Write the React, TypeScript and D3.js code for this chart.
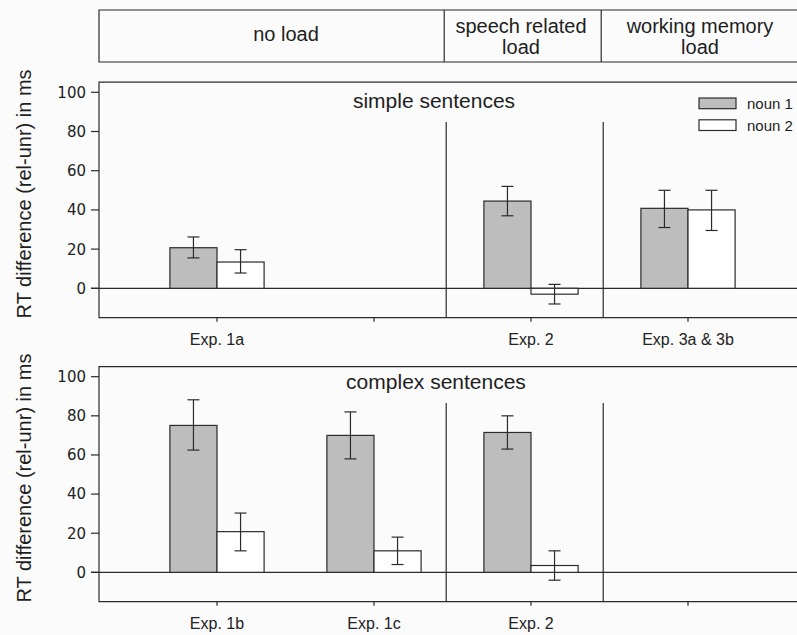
import React, { useEffect, useRef } from 'react';
import * as d3 from 'd3';

// category slots along the x axis (blank slot has a tick but no label)
const slots = ['s0', 's1', 's2', 's3'];
const simpleLabels = ['Exp. 1a', '', 'Exp. 2', 'Exp. 3a & 3b'];
const complexLabels = ['Exp. 1b', 'Exp. 1c', 'Exp. 2', ''];

// simple sentences: mean and CI per slot (null = no bar)
const simpleNoun1 = [20.7, null, 44.5, 40.8];
const simpleNoun1Lo = [15.5, null, 37, 31];
const simpleNoun1Hi = [26.2, null, 52, 50];
const simpleNoun2 = [13.4, null, -3, 40];
const simpleNoun2Lo = [7.8, null, -8, 29.5];
const simpleNoun2Hi = [19.7, null, 2, 50];

// complex sentences
const complexNoun1 = [75.1, 70, 71.5, null];
const complexNoun1Lo = [62.5, 58, 63, null];
const complexNoun1Hi = [88.2, 82, 80, null];
const complexNoun2 = [20.8, 11, 3.5, null];
const complexNoun2Lo = [11, 4, -4, null];
const complexNoun2Hi = [30.3, 18, 11, null];

const yTicks = [0, 20, 40, 60, 80, 100];
const headers = [['no load'], ['speech related', 'load'], ['working memory', 'load']];
const seriesNames = ['noun 1', 'noun 2'];

const W = 797, H = 635;
const INK = '#2b2b2b';
const SANS = 'Liberation Sans, Arial, sans-serif';
const VERD = 'DejaVu Sans, Verdana, sans-serif';

const App = () => {
  const ref = useRef<SVGSVGElement | null>(null);

  useEffect(() => {
    const svg = d3.select(ref.current);
    svg.selectAll('*').remove();

    svg.append('rect').attr('width', W).attr('height', H).attr('fill', '#fbfbfb');

    const left = 99;
    const x = d3.scalePoint<string>().domain(slots).range([217, 688]);
    const step = x.step();
    const sepX = [x('s1')! + step * 0.46, x('s2')! + step * 0.46];

    // header boxes
    const hTop = 10, hBot = 62;
    const hg = svg.append('g');
    hg.append('path')
      .attr('d', `M${W + 2},${hTop}H${left}V${hBot}H${W + 2}`)
      .attr('fill', 'none').attr('stroke', INK).attr('stroke-width', 1.2);
    sepX.forEach(sx => {
      hg.append('line').attr('x1', sx - 2).attr('x2', sx - 2).attr('y1', hTop).attr('y2', hBot)
        .attr('stroke', INK).attr('stroke-width', 1.2);
    });
    const hCenters = [286, 521, 700];
    headers.forEach((lines, i) => {
      const t = hg.append('text')
        .attr('x', hCenters[i]).attr('text-anchor', 'middle')
        .attr('font-family', SANS).attr('font-size', 20)
        .attr('fill', '#1e1e1e');
      if (lines.length === 1) {
        t.append('tspan').attr('x', hCenters[i]).attr('y', 41).text(lines[0]);
      } else {
        t.append('tspan').attr('x', hCenters[i]).attr('y', 33).text(lines[0]);
        t.append('tspan').attr('x', hCenters[i]).attr('y', 53.5).text(lines[1]);
      }
    });

    const panels = [
      {
        title: 'simple sentences', titleX: 434, titleY: 108, top: 92.3, bottom: 317.7, labels: simpleLabels,
        n1: simpleNoun1, n1lo: simpleNoun1Lo, n1hi: simpleNoun1Hi,
        n2: simpleNoun2, n2lo: simpleNoun2Lo, n2hi: simpleNoun2Hi,
        sepTop: 122, legend: true,
      },
      {
        title: 'complex sentences', titleX: 436, titleY: 388.5, top: 376.7, bottom: 601.7, labels: complexLabels,
        n1: complexNoun1, n1lo: complexNoun1Lo, n1hi: complexNoun1Hi,
        n2: complexNoun2, n2lo: complexNoun2Lo, n2hi: complexNoun2Hi,
        sepTop: 403, legend: false,
      },
    ];

    const barW = step * 0.3;
    const fills = ['#bdbdbd', '#ffffff'];

    panels.forEach(p => {
      const y = d3.scaleLinear().domain([-15, 100]).range([p.bottom, p.top]);
      const g = svg.append('g');
      const frameTop = y(105.2);

      // frame (left, top, bottom; runs off the right edge)
      g.append('path')
        .attr('d', `M${W + 2},${frameTop}H${left}V${y(-15)}H${W + 2}`)
        .attr('fill', 'none').attr('stroke', INK).attr('stroke-width', 1.2);

      // y axis ticks and labels
      yTicks.forEach(v => {
        g.append('line').attr('x1', left - 8).attr('x2', left).attr('y1', y(v)).attr('y2', y(v))
          .attr('stroke', INK).attr('stroke-width', 1.2);
        g.append('text').attr('x', left - 13).attr('y', y(v)).attr('dy', '0.36em')
          .attr('text-anchor', 'end')
          .attr('font-family', VERD).attr('font-size', 15)
          .attr('fill', '#222').text(v);
      });

      // zero line
      g.append('line').attr('x1', left - 8).attr('x2', W + 2).attr('y1', y(0)).attr('y2', y(0))
        .attr('stroke', INK).attr('stroke-width', 1.2);

      // separators between load conditions
      sepX.forEach(sx => {
        g.append('line').attr('x1', sx).attr('x2', sx).attr('y1', p.sepTop).attr('y2', y(-15))
          .attr('stroke', INK).attr('stroke-width', 1.2);
      });

      // x ticks and labels
      slots.forEach((s, i) => {
        g.append('line').attr('x1', x(s)!).attr('x2', x(s)!).attr('y1', y(-15)).attr('y2', y(-15) + 4)
          .attr('stroke', INK).attr('stroke-width', 1.2);
        if (p.labels[i]) {
          g.append('text').attr('x', x(s)!).attr('y', y(-15) + 27).attr('text-anchor', 'middle')
            .attr('font-family', SANS).attr('font-size', 16)
            .attr('fill', '#222').text(p.labels[i]);
        }
      });

      // bars
      const series = [
        { v: p.n1, lo: p.n1lo, hi: p.n1hi, off: -barW },
        { v: p.n2, lo: p.n2lo, hi: p.n2hi, off: 0 },
      ];
      series.forEach((se, k) => {
        slots.forEach((s, i) => {
          const v = se.v[i];
          if (v == null) return;
          const x0 = x(s)! + se.off;
          g.append('rect')
            .attr('x', x0).attr('width', barW)
            .attr('y', Math.min(y(v), y(0))).attr('height', Math.abs(y(v) - y(0)))
            .attr('fill', fills[k]).attr('stroke', INK).attr('stroke-width', 1.2);
        });
      });
      series.forEach(se => {
        slots.forEach((s, i) => {
          const lo = se.lo[i], hi = se.hi[i];
          if (lo == null || hi == null) return;
          const cx = x(s)! + se.off + barW / 2;
          g.append('line').attr('x1', cx).attr('x2', cx).attr('y1', y(lo)).attr('y2', y(hi))
            .attr('stroke', INK).attr('stroke-width', 1.2);
          [lo, hi].forEach(e => {
            g.append('line').attr('x1', cx - 6).attr('x2', cx + 6).attr('y1', y(e)).attr('y2', y(e))
              .attr('stroke', INK).attr('stroke-width', 1.2);
          });
        });
      });

      // panel title
      g.append('text').attr('x', p.titleX).attr('y', p.titleY).attr('text-anchor', 'middle')
        .attr('font-family', SANS).attr('font-size', 21)
        .attr('fill', '#1e1e1e').text(p.title);

      // y axis title
      const cy = (frameTop + y(-15)) / 2 - 6;
      g.append('text')
        .attr('transform', `translate(31,${cy}) rotate(-90)`)
        .attr('text-anchor', 'middle')
        .attr('font-family', SANS).attr('font-size', 20)
        .attr('fill', '#1e1e1e').text('RT difference (rel-unr) in ms');

      if (p.legend) {
        const lg = g.append('g');
        seriesNames.forEach((name, k) => {
          const ly = 98 + k * 21.8;
          lg.append('rect').attr('x', 699).attr('y', ly).attr('width', 37).attr('height', 10.7)
            .attr('fill', fills[k]).attr('stroke', INK).attr('stroke-width', 1.2);
          lg.append('text').attr('x', 747).attr('y', ly + 10.7)
            .attr('font-family', SANS).attr('font-size', 15)
            .attr('fill', '#1e1e1e').text(name);
        });
      }
    });
  }, []);

  return (
    <svg ref={ref} width={W} height={H}
      style={{ position: 'absolute', left: 0, top: 0, display: 'block' }} />
  );
};

export default App;
